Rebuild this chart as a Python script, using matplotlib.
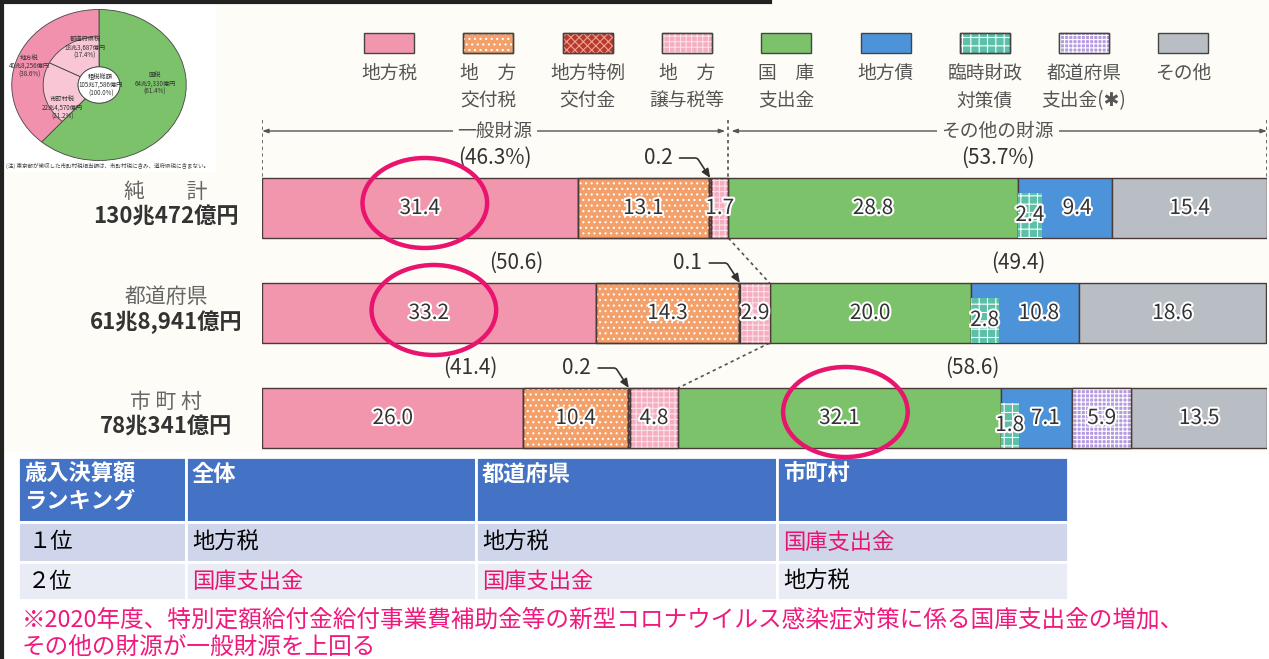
import numpy as np
import matplotlib
matplotlib.use('Agg')
import matplotlib.pyplot as plt
from matplotlib.patches import Rectangle, Ellipse, Circle
import matplotlib.patheffects as pe

plt.rcParams['font.family'] = ['Noto Sans CJK JP', 'DejaVu Sans']
plt.rcParams['hatch.linewidth'] = 0.8

###### DATA ##########
row_names  = ['純　　計', '都道府県', '市 町 村']
row_totals = ['130兆472億円', '61兆8,941億円', '78兆341億円']

zei       = [31.4, 33.2, 26.0]   # 地方税
koufu     = [13.1, 14.3, 10.4]   # 地方交付税
tokurei   = [0.2, 0.1, 0.2]      # 地方特例交付金
jouyo     = [1.7, 2.9, 4.8]      # 地方譲与税等
kokko     = [28.8, 20.0, 32.1]   # 国庫支出金
chihousai = [9.4, 10.8, 7.1]     # 地方債
rinji     = [2.4, 2.8, 1.8]      # 臨時財政対策債 (地方債の内数)
kenshi    = [0.0, 0.0, 5.9]      # 都道府県支出金
sonota    = [15.4, 18.6, 13.5]   # その他

ippan_pct  = ['(46.3%)', '(50.6)', '(41.4)']
sonota_pct = ['(53.7%)', '(49.4)', '(58.6)']

legend_names = ['地方税', '地　方\n交付税', '地方特例\n交付金', '地　方\n譲与税等', '国　庫\n支出金',
                '地方債', '臨時財政\n対策債', '都道府県\n支出金(✱)', 'その他']

# donut
tax_vals   = [61.4, 38.6]
tax_inner  = [61.4, 21.2, 17.4]

# ranking table
tbl_header = ['歳入決算額\nランキング', '全体', '都道府県', '市町村']
tbl_rows = [['１位', '地方税', '地方税', '国庫支出金'],
            ['２位', '国庫支出金', '国庫支出金', '地方税']]
note_lines = ['※2020年度、特別定額給付金給付事業費補助金等の新型コロナウイルス感染症対策に係る国庫支出金の増加、',
              'その他の財源が一般財源を上回る']
########################

C_ZEI = '#f296ae'; C_KOUFU = '#f4a06a'; C_TOKU = '#b83a2e'; C_JOUYO = '#f5adc0'
C_KOKKO = '#7cc26a'; C_SAI = '#4d93d9'; C_RINJI = '#5cc0a8'; C_KEN = '#b59be0'; C_OTHER = '#b9bdc4'
EDGE = '#4a3a3a'
MAG = '#e8146e'
CREAM = '#fdfcf6'
DOTS = '...'

W, H = 1269, 659
fig = plt.figure(figsize=(W / 100, H / 100), dpi=100, facecolor=CREAM)

# background axes in pixel coordinates
bg = fig.add_axes([0, 0, 1, 1], zorder=0)
bg.set_xlim(0, W); bg.set_ylim(H, 0); bg.axis('off')
bg.add_patch(Rectangle((0, 452), W, H - 452, color='white', lw=0))
bg.add_patch(Rectangle((4, 4), 212, 168, color='white', lw=0))
bg.plot([2, 2], [0, H], color='#222', lw=3)
bg.plot([0, 770], [1.5, 1.5], color='#222', lw=3)

# ---- legend ----
leg_face  = [C_ZEI, C_KOUFU, C_TOKU, C_JOUYO, C_KOKKO, C_SAI, C_RINJI, C_KEN, C_OTHER]
leg_hatch = [None, DOTS, 'xxxx', '+++', None, None, '++', '++++', None]
leg_hcol  = [None, 'white', '#f0a090', '#fbe0e8', None, None, 'white', 'white', None]
for i, name in enumerate(legend_names):
    cx = 389 + i * 99.3
    bg.add_patch(Rectangle((cx - 25, 33), 50, 20, facecolor=leg_face[i], edgecolor='#444', lw=1))
    if leg_hatch[i]:
        bg.add_patch(Rectangle((cx - 25, 33), 50, 20, facecolor='none', edgecolor=leg_hcol[i],
                               hatch=leg_hatch[i], lw=0))
        bg.add_patch(Rectangle((cx - 25, 33), 50, 20, facecolor='none', edgecolor='#444', lw=1))
    bg.text(cx, 63, name, ha='center', va='top', fontsize=13.5, color='#555', linespacing=1.4)

# ---- row labels ----
yc = [208, 313, 418]
for i in range(3):
    bg.text(166, yc[i] - 16, row_names[i], ha='center', va='center', fontsize=15, color='#666')
    bg.text(166, yc[i] + 9, row_totals[i], ha='center', va='center', fontsize=16,
            fontweight='bold', color='#333')

# ---- bar axes: x in %, y in pixels ----
x0, x1, ytop, ybot = 262, 1267, 112, 470
ax = fig.add_axes([x0 / W, 1 - ybot / H, (x1 - x0) / W, (ybot - ytop) / H], zorder=2)
ax.set_xlim(0, 100); ax.set_ylim(ybot, ytop)
ax.patch.set_alpha(0); ax.axis('off')

series = [(zei, C_ZEI, None, None, True), (koufu, C_KOUFU, DOTS, 'white', True),
          (tokurei, C_TOKU, 'xxxx', '#f0a090', False), (jouyo, C_JOUYO, '+++', '#fbe0e8', True),
          (kokko, C_KOKKO, None, None, True), (chihousai, C_SAI, None, None, True),
          (kenshi, C_KEN, '++++', 'white', True), (sonota, C_OTHER, None, None, True)]
bh = 60
stroke = [pe.withStroke(linewidth=3, foreground='white')]
lab_kw = dict(ha='center', va='center', fontsize=15, color='#333', path_effects=stroke, zorder=6)

for i in range(3):
    left = 0.0
    for vals, col, hatch, hcol, show in series:
        w = vals[i]
        if w <= 0:
            continue
        ax.barh(yc[i], w, left=left, height=bh, color=col, edgecolor=EDGE, lw=1, zorder=2)
        if hatch:
            ax.barh(yc[i], w, left=left, height=bh, color='none', edgecolor=hcol, hatch=hatch, lw=0, zorder=3)
            ax.barh(yc[i], w, left=left, height=bh, color='none', edgecolor=EDGE, lw=1, zorder=3)
        if vals is chihousai:
            r = rinji[i]
            ih = 45
            ax.barh(yc[i] + bh / 2 - ih / 2, r, left=left, height=ih, color=C_RINJI, lw=0, zorder=4)
            ax.barh(yc[i] + bh / 2 - ih / 2, r, left=left, height=ih, color='none', edgecolor='white',
                    hatch='++', lw=0, zorder=4)
            ax.text(left + r / 2, yc[i] + 7, f'{r:.1f}', **lab_kw)
            ax.text(left + r + (w - r) / 2, yc[i], f'{w:.1f}', **lab_kw)
        elif show:
            ax.text(left + w / 2, yc[i], f'{w:.1f}', **lab_kw)
        if vals is tokurei:
            ax.annotate(f'{w:.1f}', xy=(left + w / 2, yc[i] - bh / 2), xytext=(-52, 20),
                        textcoords='offset pixels', ha='center', va='center', fontsize=15, color='#333',
                        arrowprops=dict(arrowstyle='-|>,head_length=0.35,head_width=0.15', color='#333',
                                        lw=1.2, shrinkA=3, shrinkB=0,
                                        connectionstyle='angle,angleA=0,angleB=123,rad=2'), zorder=6)
        left += w

# group boundaries and percent labels
ippan = [zei[i] + koufu[i] + tokurei[i] + jouyo[i] for i in range(3)]
for i in range(3):
    ax.text(ippan[i] / 2, yc[i] - 50, ippan_pct[i], ha='center', va='center', fontsize=15, color='#333')
    ax.text(ippan[i] + (100 - ippan[i]) / 2, yc[i] - 50, sonota_pct[i], ha='center', va='center',
            fontsize=15, color='#333')
for i in range(2):
    ax.plot([ippan[i], ippan[i + 1]], [yc[i] + bh / 2, yc[i + 1] - bh / 2], ls=(0, (2, 2)),
            color='#555', lw=1.2, zorder=1)

# bracket on top
yb = 131
for xx in [0, ippan[0], 100]:
    ax.plot([xx, xx], [120, yc[0] - bh / 2], ls=(0, (2, 2)), color='#555', lw=1.2, zorder=1)
arr = dict(arrowstyle='<|-|>,head_length=0.35,head_width=0.12', color='#555', lw=1, shrinkA=0, shrinkB=0)
ax.annotate('', xy=(0, yb), xytext=(ippan[0] - 0.3, yb), arrowprops=arr)
ax.annotate('', xy=(ippan[0] + 0.3, yb), xytext=(100, yb), arrowprops=arr)
bb = dict(boxstyle='square,pad=0.25', facecolor=CREAM, edgecolor='none')
ax.text(ippan[0] / 2, yb, '一般財源', ha='center', va='center', fontsize=13.5, color='#555', bbox=bb, zorder=5)
ax.text(ippan[0] + (100 - ippan[0]) / 2, yb, 'その他の財源', ha='center', va='center', fontsize=13.5,
        color='#555', bbox=bb, zorder=5)

# highlight circles
circ = [(zei[0] / 2 + 0.5, yc[0] - 5), (zei[1] / 2 + 0.5, yc[1] - 3),
        (ippan[2] + kokko[2] / 2 + 0.6, yc[2] - 6)]
for cx, cy in circ:
    ax.add_patch(Ellipse((cx, cy), 12.4, 90, facecolor='none', edgecolor=MAG, lw=3.2, zorder=7, clip_on=False))

# ---- donut ----
dax = fig.add_axes([10 / W, 1 - 162 / H, 178 / W, 154 / H], zorder=1)
dax.pie(tax_vals, radius=1, colors=[C_KOKKO, '#f291ad'], startangle=90, counterclock=False,
        wedgeprops=dict(width=0.76, edgecolor='#444', lw=0.6))
dax.pie(tax_inner, radius=0.64, colors=['none', '#f8c6d4', '#f8c6d4'], startangle=90, counterclock=False,
        wedgeprops=dict(width=0.40, edgecolor='#444', lw=0.6))
dax.add_patch(Circle((0, 0), 0.24, facecolor='white', edgecolor='#444', lw=0.6))
for w in dax.patches[2:3]:
    w.set_edgecolor('none')
dax.set_aspect('auto'); dax.set_xlim(-1.02, 1.02); dax.set_ylim(-1.02, 1.02)
dk = dict(ha='center', va='center', fontsize=4.5, color='#333', linespacing=1.1)
dax.text(0.02, 0.0, '租税総額\n105兆7,586億円\n(100.0%)', **dk)
dax.text(0.64, 0.02, '国税\n64兆9,330億円\n(61.4%)', **dk)
dax.text(-0.8, 0.25, '地方税\n40兆8,256億円\n(38.6%)', **dk)
dax.text(-0.16, 0.5, '都道府県税\n18兆3,687億円\n(17.4%)', **dk)
dax.text(-0.42, -0.3, '市町村税\n22兆4,570億円\n(21.2%)', **dk)
bg.text(6, 166, '(注) 東京都が徴収した市町村税相当額は、市町村税に含み、道府県税に含まない。',
        fontsize=4, color='#444', va='center')

# ---- ranking table ----
cols = [18, 186, 476, 777, 1068]
rows_y = [457, 522, 562, 600]
row_cols = ['#4472c4', '#cfd5ea', '#e9ebf5']
for r in range(3):
    for c in range(4):
        bg.add_patch(Rectangle((cols[c], rows_y[r]), cols[c + 1] - cols[c], rows_y[r + 1] - rows_y[r],
                               facecolor=row_cols[r], edgecolor='white', lw=2))
for c, txt in enumerate(tbl_header):
    bg.text(cols[c] + 6, rows_y[0] + 6, txt, ha='left', va='top', fontsize=16, fontweight='bold',
            color='white', linespacing=1.2)
for r, row in enumerate(tbl_rows):
    ym = (rows_y[r + 1] + rows_y[r + 2]) / 2
    for c, txt in enumerate(row):
        color = MAG if txt == '国庫支出金' else 'black'
        bg.text(cols[c] + (10 if c == 0 else 6), ym, txt, ha='left', va='center', fontsize=16, color=color)

bg.text(22, 620, note_lines[0], ha='left', va='center', fontsize=17, color='#f0197d')
bg.text(22, 647, note_lines[1], ha='left', va='center', fontsize=17, color='#f0197d')

fig.savefig('out.png', dpi=100, facecolor=CREAM)
